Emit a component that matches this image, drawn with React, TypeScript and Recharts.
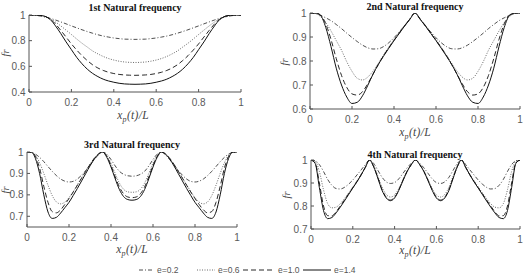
import React from 'react';
import { LineChart, Line, XAxis, YAxis } from 'recharts';

// x positions (x_p(t)/L)
const X_A = [0,0.025,0.05,0.075,0.1,0.125,0.15,0.175,0.2,0.225,0.25,0.275,0.3,0.325,0.35,0.375,0.4,0.425,0.45,0.475,0.5,0.525,0.55,0.575,0.6,0.625,0.65,0.675,0.7,0.725,0.75,0.775,0.8,0.825,0.85,0.875,0.9,0.925,0.95,0.975,1];
const X_B = [0,0.02,0.04,0.06,0.08,0.1,0.12,0.14,0.16,0.18,0.2,0.22,0.24,0.26,0.28,0.3,0.32,0.34,0.36,0.38,0.4,0.42,0.44,0.46,0.48,0.5,0.52,0.54,0.56,0.58,0.6,0.62,0.64,0.66,0.68,0.7,0.72,0.74,0.76,0.78,0.8,0.82,0.84,0.86,0.88,0.9,0.92,0.94,0.96,0.98,1];

const X_TICKS = [0,0.2,0.4,0.6,0.8,1];

// 1st natural frequency
const F1_E02 = [1,0.998,0.993,0.985,0.974,0.961,0.946,0.931,0.915,0.9,0.885,0.871,0.858,0.846,0.836,0.828,0.821,0.816,0.812,0.811,0.81,0.811,0.812,0.816,0.821,0.828,0.836,0.846,0.858,0.871,0.885,0.9,0.915,0.931,0.946,0.961,0.974,0.985,0.993,0.998,1];
const F1_E06 = [1,0.999,0.995,0.985,0.968,0.945,0.915,0.882,0.848,0.813,0.78,0.75,0.72,0.697,0.677,0.661,0.649,0.64,0.634,0.631,0.63,0.631,0.634,0.64,0.649,0.661,0.677,0.697,0.72,0.75,0.78,0.813,0.848,0.882,0.915,0.945,0.968,0.985,0.995,0.999,1];
const F1_E10 = [1,1,0.998,0.99,0.968,0.93,0.88,0.828,0.775,0.727,0.683,0.645,0.612,0.587,0.568,0.554,0.544,0.537,0.533,0.531,0.53,0.531,0.533,0.537,0.544,0.554,0.568,0.587,0.612,0.645,0.683,0.727,0.775,0.828,0.88,0.93,0.968,0.99,0.998,1,1];
const F1_E14 = [1,1,0.998,0.99,0.965,0.915,0.855,0.79,0.73,0.67,0.62,0.578,0.545,0.52,0.5,0.486,0.476,0.468,0.463,0.461,0.46,0.461,0.463,0.468,0.476,0.486,0.5,0.52,0.545,0.578,0.62,0.67,0.73,0.79,0.855,0.915,0.965,0.99,0.998,1,1];

// 2nd natural frequency
const F2_E02 = [1,0.998,0.99,0.98,0.968,0.952,0.935,0.916,0.898,0.881,0.866,0.855,0.85,0.851,0.86,0.876,0.897,0.921,0.947,0.974,1,0.974,0.947,0.921,0.897,0.876,0.86,0.851,0.85,0.855,0.866,0.881,0.898,0.916,0.935,0.952,0.968,0.98,0.99,0.998,1];
const F2_E06 = [1,0.998,0.985,0.96,0.925,0.885,0.845,0.797,0.757,0.728,0.721,0.733,0.758,0.79,0.825,0.858,0.89,0.92,0.948,0.975,1,0.975,0.948,0.92,0.89,0.858,0.825,0.79,0.758,0.733,0.721,0.728,0.757,0.797,0.845,0.885,0.925,0.96,0.985,0.998,1];
const F2_E10 = [1,1,0.992,0.955,0.89,0.81,0.74,0.69,0.663,0.658,0.672,0.705,0.745,0.785,0.822,0.855,0.886,0.916,0.946,0.974,1,0.974,0.946,0.916,0.886,0.855,0.822,0.785,0.745,0.705,0.672,0.658,0.663,0.69,0.74,0.81,0.89,0.955,0.992,1,1];
const F2_E14 = [1,1,0.99,0.94,0.86,0.77,0.7,0.65,0.623,0.628,0.655,0.698,0.745,0.785,0.82,0.853,0.885,0.915,0.945,0.973,1,0.973,0.945,0.915,0.885,0.853,0.82,0.785,0.745,0.698,0.655,0.628,0.623,0.65,0.7,0.77,0.86,0.94,0.99,1,1];

// 3rd natural frequency
const F3_E02 = [1,0.998,0.99,0.975,0.955,0.932,0.91,0.89,0.874,0.864,0.86,0.863,0.874,0.892,0.914,0.939,0.964,0.986,1,0.99,0.965,0.935,0.91,0.896,0.889,0.887,0.889,0.896,0.91,0.935,0.965,0.99,1,0.986,0.964,0.939,0.914,0.892,0.874,0.863,0.86,0.864,0.874,0.89,0.91,0.932,0.955,0.975,0.99,0.998,1];
const F3_E06 = [1,0.998,0.985,0.95,0.9,0.845,0.797,0.767,0.758,0.766,0.787,0.815,0.847,0.88,0.912,0.943,0.97,0.99,1,0.985,0.948,0.9,0.855,0.826,0.814,0.812,0.814,0.826,0.855,0.9,0.948,0.985,1,0.99,0.97,0.943,0.912,0.88,0.847,0.815,0.787,0.766,0.758,0.767,0.797,0.845,0.9,0.95,0.985,0.998,1];
const F3_E10 = [1,1,0.98,0.925,0.84,0.765,0.722,0.716,0.73,0.755,0.783,0.813,0.845,0.878,0.91,0.942,0.97,0.99,1,0.98,0.937,0.885,0.837,0.805,0.79,0.787,0.79,0.805,0.837,0.885,0.937,0.98,1,0.99,0.97,0.942,0.91,0.878,0.845,0.813,0.783,0.755,0.73,0.716,0.722,0.765,0.84,0.925,0.98,1,1];
const F3_E14 = [1,1,0.97,0.9,0.8,0.72,0.69,0.695,0.715,0.74,0.765,0.797,0.83,0.865,0.9,0.935,0.966,0.99,1,0.975,0.93,0.875,0.825,0.792,0.778,0.775,0.778,0.792,0.825,0.875,0.93,0.975,1,0.99,0.966,0.935,0.9,0.865,0.83,0.797,0.765,0.74,0.715,0.695,0.69,0.72,0.8,0.9,0.97,1,1];

// 4th natural frequency
const F4_E02 = [1,0.997,0.98,0.95,0.915,0.89,0.876,0.874,0.881,0.895,0.913,0.935,0.957,0.98,1,0.985,0.955,0.925,0.905,0.898,0.902,0.918,0.942,0.966,0.986,1,0.986,0.966,0.942,0.918,0.902,0.898,0.905,0.925,0.955,0.985,1,0.98,0.957,0.935,0.913,0.895,0.881,0.874,0.876,0.89,0.915,0.95,0.98,0.997,1];
const F4_E06 = [1,0.995,0.95,0.87,0.81,0.792,0.795,0.81,0.832,0.857,0.883,0.91,0.938,0.969,1,0.975,0.93,0.882,0.85,0.839,0.848,0.876,0.915,0.953,0.981,1,0.981,0.953,0.915,0.876,0.848,0.839,0.85,0.882,0.93,0.975,1,0.969,0.938,0.91,0.883,0.857,0.832,0.81,0.795,0.792,0.81,0.87,0.95,0.995,1];
const F4_E10 = [1,0.988,0.9,0.8,0.758,0.757,0.775,0.8,0.826,0.853,0.88,0.907,0.936,0.968,1,0.971,0.923,0.872,0.838,0.826,0.838,0.87,0.912,0.951,0.98,1,0.98,0.951,0.912,0.87,0.838,0.826,0.838,0.872,0.923,0.971,1,0.968,0.936,0.907,0.88,0.853,0.826,0.8,0.775,0.757,0.758,0.8,0.9,0.988,1];
const F4_E14 = [1,0.985,0.88,0.78,0.745,0.75,0.77,0.795,0.822,0.85,0.878,0.905,0.935,0.968,1,0.97,0.92,0.868,0.835,0.823,0.835,0.868,0.91,0.95,0.98,1,0.98,0.95,0.91,0.868,0.835,0.823,0.835,0.868,0.92,0.97,1,0.968,0.935,0.905,0.878,0.85,0.822,0.795,0.77,0.75,0.745,0.78,0.88,0.985,1];

const LEGEND_LABELS = ['e=0.2', 'e=0.6', 'e=1.0', 'e=1.4'];
const TITLES = ['1st Natural frequency', '2nd Natural frequency', '3rd Natural frequency', '4th Natural frequency'];

const STYLES = [
  { key: 'e02', dash: '4 2 1 2', w: 0.8, color: '#222' },
  { key: 'e06', dash: '1 1.5', w: 0.8, color: '#444' },
  { key: 'e10', dash: '5 3', w: 0.9, color: '#111' },
  { key: 'e14', dash: undefined, w: 1, color: '#111' },
];

const AX = '#555';
const TICK_FONT = { fontSize: 10, fill: '#5a5a5a', fontFamily: 'Liberation Sans, Arial, sans-serif' };

type PanelProps = {
  left: number; top: number; w: number; h: number;
  xs: number[]; ys: number[][]; yDomain: [number, number]; yTicks: number[];
};

function Panel({ left, top, w, h, xs, ys, yDomain, yTicks }: PanelProps) {
  const data = xs.map((x, i) => ({ x, e02: ys[0][i], e06: ys[1][i], e10: ys[2][i], e14: ys[3][i] }));
  const ML = 30, MR = 4, MT = 4, MB = 20;
  return (
    <div style={{ position: 'absolute', left: left - ML, top: top - MT }}>
      <LineChart width={w + ML + MR} height={h + MT + MB} data={data} margin={{ top: MT, right: MR, bottom: 0, left: 0 }}>
        <XAxis dataKey="x" type="number" domain={[0, 1]} ticks={X_TICKS} interval={0} height={MB}
          tickSize={-3} tickMargin={10} axisLine={{ stroke: AX }} tickLine={{ stroke: AX }} tick={TICK_FONT} allowDataOverflow />
        <XAxis xAxisId="t" orientation="top" dataKey="x" type="number" domain={[0, 1]} ticks={X_TICKS} interval={0} height={0}
          tickSize={-3} axisLine={{ stroke: AX }} tickLine={{ stroke: AX }} tick={false} allowDataOverflow />
        <YAxis type="number" domain={yDomain} ticks={yTicks} interval={0} width={ML}
          tickSize={-3} tickMargin={6.5} axisLine={{ stroke: AX }} tickLine={{ stroke: AX }} tick={TICK_FONT} allowDataOverflow />
        <YAxis yAxisId="r" orientation="right" type="number" domain={yDomain} ticks={yTicks} interval={0} width={0}
          tickSize={-3} axisLine={{ stroke: AX }} tickLine={{ stroke: AX }} tick={false} allowDataOverflow />
        {STYLES.map((s) => (
          <Line key={s.key} dataKey={s.key} type="monotone" stroke={s.color} strokeWidth={s.w}
            strokeDasharray={s.dash} dot={false} activeDot={false} isAnimationActive={false} />
        ))}
      </LineChart>
    </div>
  );
}

function T({ x, y, children, style }: { x: number; y: number; children: React.ReactNode; style?: React.CSSProperties }) {
  return (
    <div style={{ position: 'absolute', left: x, top: y, transform: 'translate(-50%, -50%)', whiteSpace: 'nowrap', lineHeight: 1, ...style }}>
      {children}
    </div>
  );
}

const titleStyle: React.CSSProperties = { fontFamily: 'Liberation Serif, serif', fontWeight: 'bold', fontSize: 10, color: '#111' };
const xlabStyle: React.CSSProperties = { fontFamily: 'Liberation Serif, serif', fontStyle: 'italic', fontSize: 11.5, color: '#444', letterSpacing: 0.3 };
const ylabStyle: React.CSSProperties = { fontFamily: 'Liberation Serif, serif', fontStyle: 'italic', fontSize: 10.5, color: '#444' };

function XLab({ x, y }: { x: number; y: number }) {
  return (
    <T x={x} y={y} style={xlabStyle}>
      x<sub style={{ fontSize: 8, verticalAlign: 'baseline', position: 'relative', top: 3 }}>p</sub>(t)/L
    </T>
  );
}

function YLab({ x, y }: { x: number; y: number }) {
  return (
    <div style={{ position: 'absolute', left: x, top: y, transform: 'translate(-50%, -50%) rotate(-90deg)', lineHeight: 1, ...ylabStyle }}>fr</div>
  );
}

function LegendItem({ x, lineW, dash, label, color, w }: { x: number; lineW: number; dash?: string; label: string; color: string; w: number }) {
  return (
    <div style={{ position: 'absolute', left: x, top: 264, height: 12, display: 'flex', alignItems: 'center' }}>
      <svg width={lineW} height={12} style={{ display: 'block' }}>
        <line x1={0} y1={6} x2={lineW} y2={6} stroke={color} strokeWidth={w} strokeDasharray={dash} />
      </svg>
      <span style={{ marginLeft: 3, fontFamily: 'Liberation Sans, Arial, sans-serif', fontSize: 8.5, color: '#555' }}>{label}</span>
    </div>
  );
}

export default function App() {
  const legendX = [139, 197, 243, 303];
  const legendW = [15, 18, 32, 28];
  return (
    <div style={{ position: 'absolute', left: 0, top: 0, width: 526, height: 276, background: '#fff', overflow: 'hidden' }}>
      <Panel left={29} top={15} w={212} h={77} xs={X_A} ys={[F1_E02, F1_E06, F1_E10, F1_E14]} yDomain={[0.4, 1]} yTicks={[0.4, 0.6, 0.8, 1]} />
      <Panel left={310} top={13} w={210} h={96} xs={X_A} ys={[F2_E02, F2_E06, F2_E10, F2_E14]} yDomain={[0.6, 1]} yTicks={[0.6, 0.7, 0.8, 0.9, 1]} />
      <Panel left={27} top={152} w={210} h={75} xs={X_B} ys={[F3_E02, F3_E06, F3_E10, F3_E14]} yDomain={[0.65, 1]} yTicks={[0.7, 0.8, 0.9, 1]} />
      <Panel left={311} top={160} w={209} h={69} xs={X_B} ys={[F4_E02, F4_E06, F4_E10, F4_E14]} yDomain={[0.7, 1]} yTicks={[0.7, 0.8, 0.9, 1]} />

      <T x={135} y={8} style={titleStyle}>{TITLES[0]}</T>
      <T x={415} y={7} style={titleStyle}>{TITLES[1]}</T>
      <T x={132} y={144.5} style={titleStyle}>{TITLES[2]}</T>
      <T x={415} y={154.5} style={titleStyle}>{TITLES[3]}</T>

      <XLab x={133} y={116} />
      <XLab x={415} y={133} />
      <XLab x={132} y={250} />
      <XLab x={415} y={251} />

      <YLab x={6} y={53} />
      <YLab x={285} y={62} />
      <YLab x={6} y={190} />
      <YLab x={287} y={195} />

      {STYLES.map((s, i) => (
        <LegendItem key={s.key} x={legendX[i]} lineW={legendW[i]} dash={s.dash} label={LEGEND_LABELS[i]} color={s.color} w={s.w} />
      ))}
    </div>
  );
}
